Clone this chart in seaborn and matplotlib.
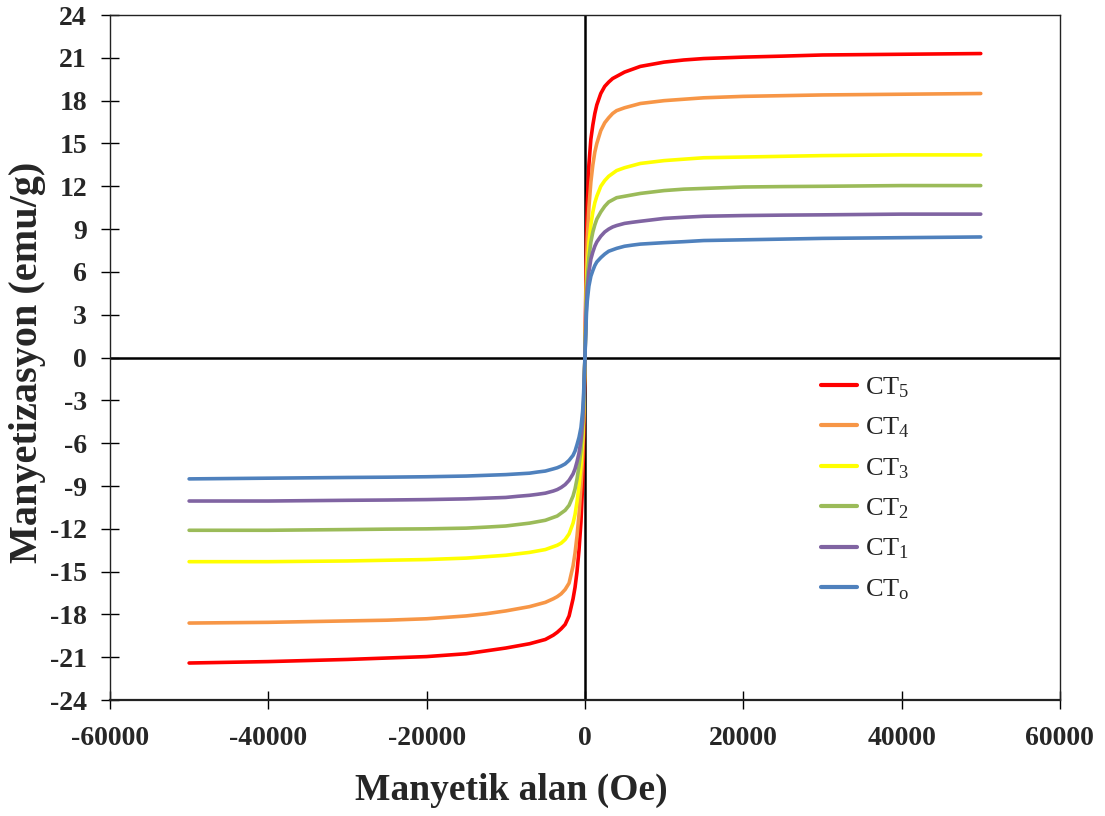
import matplotlib
matplotlib.use("Agg")
import matplotlib.pyplot as plt
import numpy as np
import pandas as pd
import seaborn as sns

# Applied field (Oe): negative branch and positive branch
field_neg = [-50000, -40000, -30000, -25000, -20000, -15000, -12500, -10000,
             -8500, -7000, -6000, -5000, -4000, -3500, -3000, -2500, -2000,
             -1500, -1250, -1000, -750, -500, -300, -200]
field_pos = [0, 200, 300, 500, 750, 1000, 1250, 1500, 2000, 2500, 3000, 3500,
             4000, 5000, 6000, 7000, 8500, 10000, 12500, 15000, 20000, 25000,
             30000, 40000, 50000]

# Magnetization (emu/g) for each sample
ct5_neg = [-21.4, -21.3, -21.15, -21.05, -20.95, -20.75, -20.55, -20.35,
           -20.2, -20.05, -19.9, -19.75, -19.45, -19.25, -19.0, -18.7, -18.1,
           -16.9, -16.1, -15.0, -13.5, -11.5, -9.0, -7.0]
ct5_pos = [0, 8.5, 10.8, 13.5, 15.3, 16.3, 17.1, 17.7, 18.5, 19.0, 19.3, 19.55,
           19.7, 20.0, 20.2, 20.4, 20.55, 20.7, 20.85, 20.95, 21.05, 21.12,
           21.2, 21.25, 21.3]
ct4_neg = [-18.6, -18.55, -18.45, -18.4, -18.3, -18.1, -17.95, -17.75,
           -17.6, -17.45, -17.3, -17.15, -16.9, -16.75, -16.55, -16.25, -15.8,
           -14.6, -13.7, -12.5, -11.0, -9.0, -7.0, -5.5]
ct4_pos = [0, 6.5, 8.3, 10.5, 12.3, 13.5, 14.4, 15.0, 15.9, 16.45, 16.8, 17.1,
           17.3, 17.5, 17.65, 17.8, 17.9, 18.0, 18.1, 18.2, 18.3, 18.35,
           18.4, 18.45, 18.5]
ct3_neg = [-14.3, -14.3, -14.25, -14.2, -14.15, -14.05, -13.95, -13.85,
           -13.75, -13.65, -13.55, -13.45, -13.25, -13.15, -13.0, -12.75,
           -12.35, -11.6, -11.0, -10.1, -9.0, -7.5, -5.8, -4.5]
ct3_pos = [0, 5.0, 6.3, 8.0, 9.3, 10.2, 10.85, 11.3, 12.0, 12.4, 12.7, 12.9,
           13.1, 13.3, 13.45, 13.6, 13.7, 13.8, 13.9, 14.0, 14.05, 14.1,
           14.15, 14.2, 14.2]
ct2_neg = [-12.1, -12.1, -12.05, -12.02, -12.0, -11.95, -11.88, -11.8,
           -11.7, -11.6, -11.5, -11.4, -11.2, -11.1, -10.9, -10.7, -10.35,
           -9.7, -9.2, -8.5, -7.6, -6.5, -5.0, -4.0]
ct2_pos = [0, 4.5, 5.6, 7.0, 8.1, 8.8, 9.3, 9.7, 10.2, 10.6, 10.9, 11.05,
           11.2, 11.3, 11.4, 11.5, 11.6, 11.7, 11.8, 11.85, 11.95, 11.98,
           12.0, 12.05, 12.05]
ct1_neg = [-10.05, -10.05, -10.0, -9.98, -9.95, -9.9, -9.85, -9.8,
           -9.72, -9.65, -9.58, -9.5, -9.35, -9.25, -9.1, -8.9, -8.6,
           -8.15, -7.8, -7.3, -6.7, -5.8, -4.5, -3.5]
ct1_pos = [0, 3.8, 4.8, 6.0, 6.9, 7.4, 7.8, 8.1, 8.5, 8.8, 9.0, 9.15,
           9.25, 9.4, 9.48, 9.55, 9.65, 9.75, 9.83, 9.9, 9.95, 9.98,
           10.0, 10.05, 10.05]
ct0_neg = [-8.5, -8.45, -8.4, -8.38, -8.35, -8.3, -8.25, -8.2,
           -8.15, -8.1, -8.02, -7.95, -7.8, -7.72, -7.6, -7.45, -7.2,
           -6.85, -6.55, -6.1, -5.6, -4.9, -3.8, -3.0]
ct0_pos = [0, 3.2, 4.0, 5.0, 5.7, 6.1, 6.45, 6.7, 7.0, 7.25, 7.45, 7.55,
           7.65, 7.8, 7.88, 7.95, 8.0, 8.05, 8.12, 8.2, 8.25, 8.3,
           8.35, 8.4, 8.45]

labels = ["CT$_5$", "CT$_4$", "CT$_3$", "CT$_2$", "CT$_1$", "CT$_{\\mathrm{o}}$"]
colors = ["#FF0000", "#F79646", "#FFFF00", "#9BBB59", "#8064A2", "#4F81BD"]
series = [(ct5_neg, ct5_pos), (ct4_neg, ct4_pos), (ct3_neg, ct3_pos),
          (ct2_neg, ct2_pos), (ct1_neg, ct1_pos), (ct0_neg, ct0_pos)]

x_ticks = [-60000, -40000, -20000, 0, 20000, 40000, 60000]
y_ticks = list(range(-24, 25, 3))

frames = []
for lab, (neg, pos) in zip(labels, series):
    frames.append(pd.DataFrame({
        "H": field_neg + field_pos,
        "M": neg + pos,
        "sample": lab,
    }))
df = pd.concat(frames, ignore_index=True)

sns.set_style("white")
plt.rcParams["font.family"] = ["Liberation Serif", "DejaVu Serif"]
plt.rcParams["mathtext.fontset"] = "custom"
plt.rcParams["mathtext.rm"] = "Liberation Serif"
plt.rcParams["mathtext.it"] = "Liberation Serif:italic"
plt.rcParams["axes.unicode_minus"] = False

fig = plt.figure(figsize=(11.05, 8.16), dpi=100)
ax = fig.add_axes([0.0995, 0.142, 0.8597, 0.8396])

# Zero axes drawn first so curves sit on top
ax.axhline(0, color="black", lw=1.8, zorder=1)
ax.axvline(0, color="black", lw=1.8, zorder=1)

sns.lineplot(data=df, x="H", y="M", hue="sample", hue_order=labels,
             palette=dict(zip(labels, colors)), sort=False, estimator=None,
             linewidth=2.6, ax=ax, zorder=3)
for ln in ax.get_lines():
    ln.set_solid_joinstyle("round")
    ln.set_solid_capstyle("round")

ax.set_xlim(-60000, 60000)
ax.set_ylim(-24, 24)
ax.set_xticks(x_ticks)
ax.set_yticks(y_ticks)
ax.set_xticklabels([str(v) for v in x_ticks])
ax.set_yticklabels([str(v) for v in y_ticks])
ax.tick_params(axis="both", which="major", bottom=True, left=True,
               top=False, right=False, direction="inout", length=13,
               width=1, color="black", labelsize=20)
ax.tick_params(axis="x", pad=12)
ax.tick_params(axis="y", pad=10)
for lbl in ax.get_xticklabels() + ax.get_yticklabels():
    lbl.set_fontweight("bold")

for side in ["left", "bottom", "top", "right"]:
    ax.spines[side].set_visible(True)
    ax.spines[side].set_color("#222222")
    ax.spines[side].set_linewidth(1.0)
ax.spines["bottom"].set_linewidth(1.6)

ax.set_xlabel("Manyetik alan (Oe)", fontsize=27, fontweight="bold")
ax.xaxis.set_label_coords(0.422, -0.106)
ax.set_ylabel("Manyetizasyon (emu/g)", fontsize=29, fontweight="bold")
ax.yaxis.set_label_coords(-0.067, 0.493)

leg = ax.legend(loc="upper left", bbox_to_anchor=(0.724, 0.509), frameon=False,
                fontsize=19, handlelength=1.35, handletextpad=0.3,
                labelspacing=0.6)
for line in leg.get_lines():
    line.set_linewidth(3)

fig.savefig("out.png", dpi=100, facecolor="white")
